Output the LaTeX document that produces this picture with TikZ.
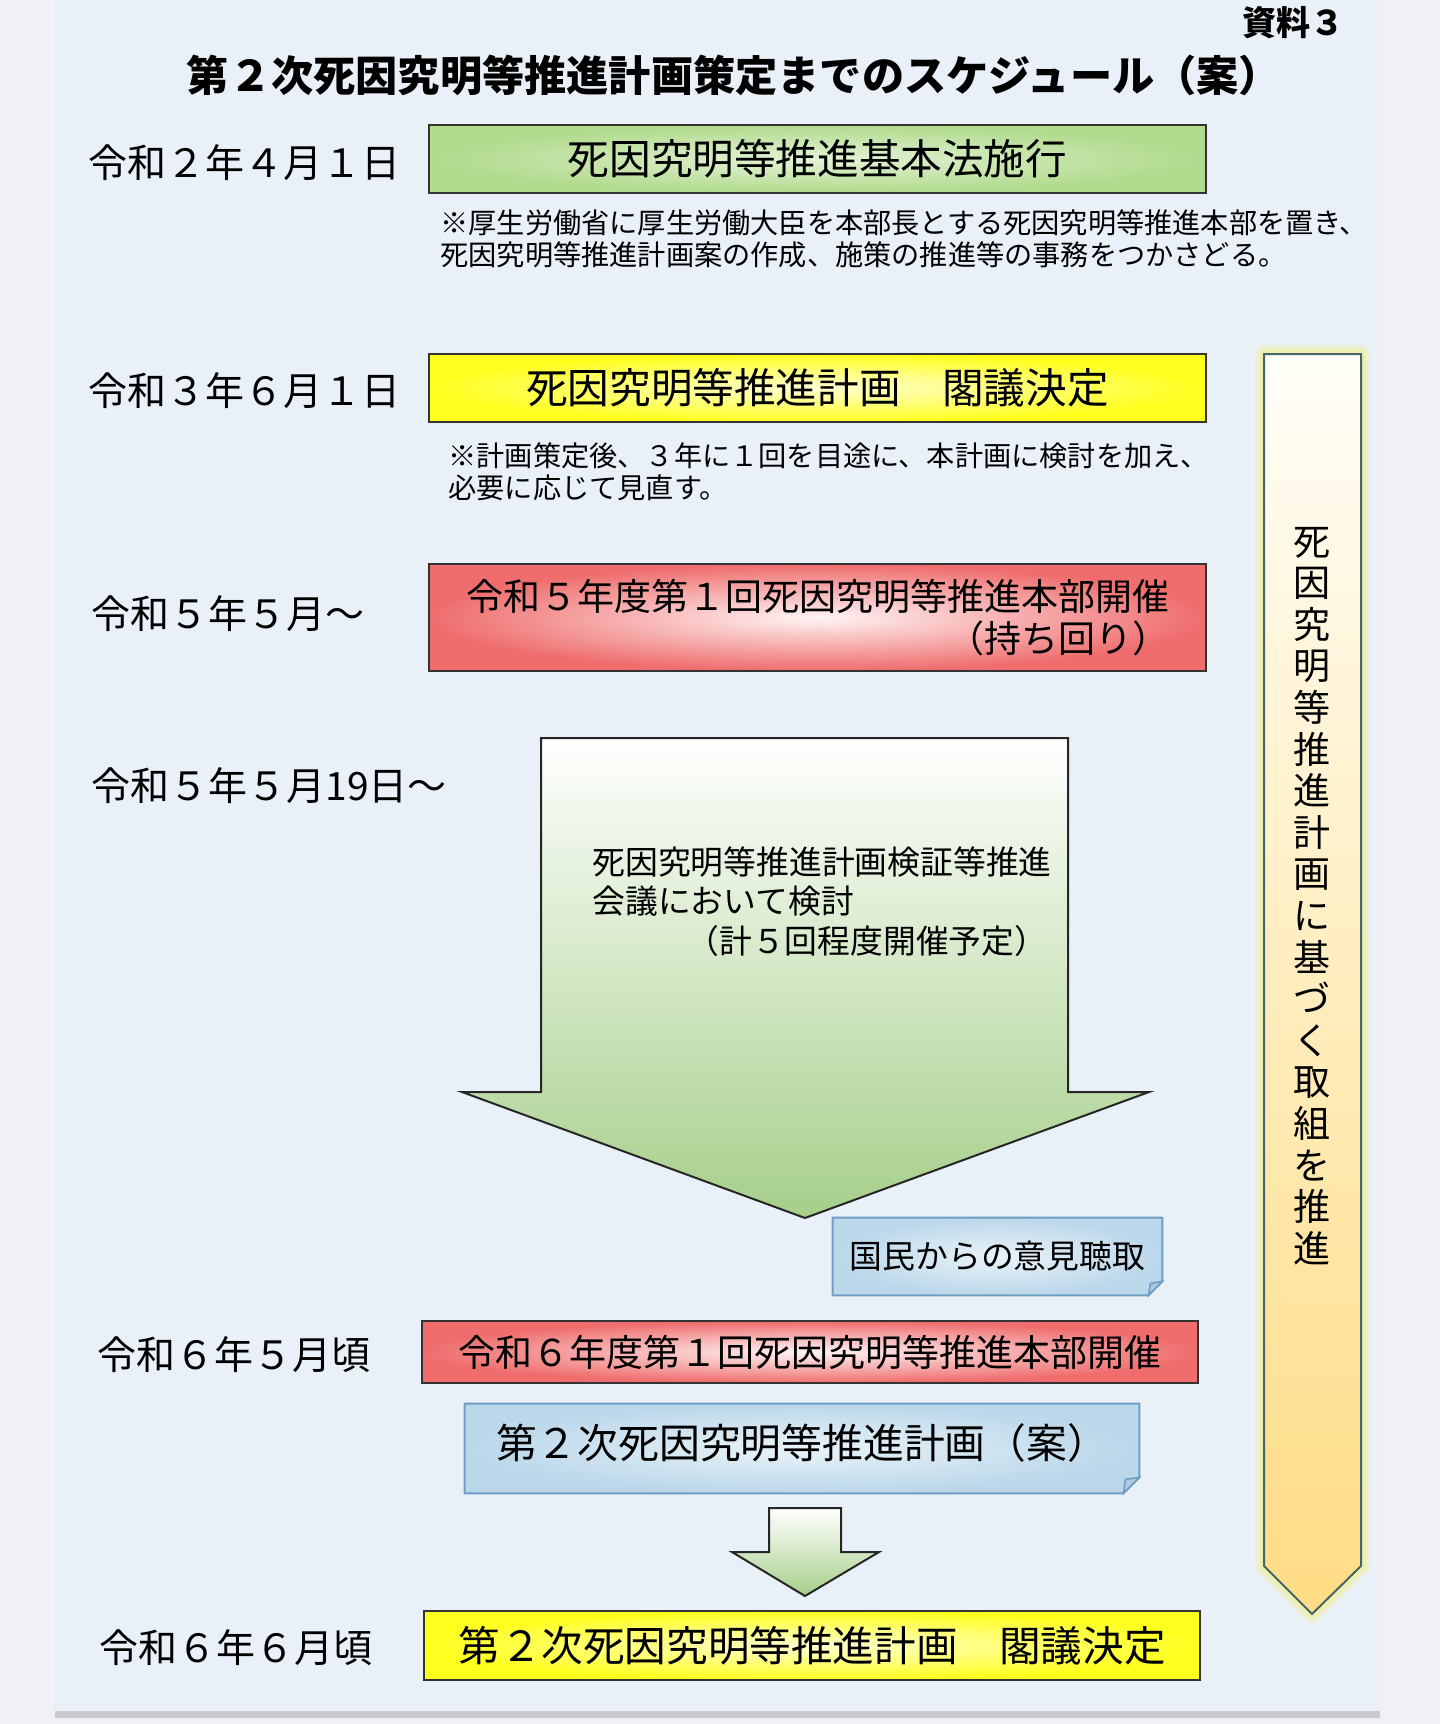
\documentclass[tikz,border=0pt]{standalone}
\usepackage{fontspec}
\setmainfont{Noto Sans CJK JP}
\usetikzlibrary{positioning,calc}
\definecolor{pagebg}{HTML}{F1F1F5}
\definecolor{panel}{HTML}{EAF0F8}
\definecolor{panelline}{HTML}{C9C9CE}
\definecolor{lawout}{HTML}{B0DA8C}
\definecolor{lawin}{HTML}{E4F3D6}
\definecolor{cabout}{HTML}{FFFF1E}
\definecolor{cabin}{HTML}{FFFFD2}
\definecolor{hqout}{HTML}{EF6D6D}
\definecolor{hqin}{HTML}{FFF4F4}
\definecolor{paperout}{HTML}{BBD7EA}
\definecolor{paperin}{HTML}{E9F3F9}
\definecolor{paperedge}{HTML}{6E9DC6}
\definecolor{arrgreen}{HTML}{A6CF8A}
\definecolor{promtop}{HTML}{FFFEF8}
\definecolor{prombot}{HTML}{FFDC84}
\definecolor{promedge}{HTML}{46656B}
\definecolor{glowc}{HTML}{F2F08A}
\pgfdeclarelayer{back}
\pgfdeclarelayer{bg}
\pgfsetlayers{back,bg,main}
\tikzset{
doc/.style={inner sep=0pt,font=\fontsize{17}{20}\selectfont\bfseries},
heading/.style={inner sep=0pt,font=\fontsize{21.1}{24}\selectfont\bfseries},
date/.style={anchor=base west,inner sep=0pt,font=\fontsize{19.5}{23}\selectfont},
note/.style={anchor=north west,inner sep=0pt,align=left,font=\fontsize{14.1}{16}\selectfont},
bar/.style={draw=black!80,line width=1pt,minimum width=388.5pt,minimum height=34pt,inner sep=0pt,font=\fontsize{20.8}{24}\selectfont},
law/.style={bar,inner color=lawin,outer color=lawout},
cab/.style={bar,inner color=cabin,outer color=cabout},
hq/.style={bar,inner color=hqin,outer color=hqout,font=\fontsize{18.5}{21}\selectfont},
meet/.style={anchor=north west,inner sep=0pt,align=left,font=\fontsize{16.4}{19.8}\selectfont},
opinion/.style={inner sep=0pt,minimum width=164.5pt,minimum height=38.5pt,font=\fontsize{16.4}{19}\selectfont},
draft/.style={inner sep=0pt,minimum width=337pt,minimum height=44.5pt,text depth=7pt,font=\fontsize{20.4}{24}\selectfont},
vtext/.style={inner sep=0pt,align=center,font=\fontsize{18.5}{20.8}\selectfont},
paper/.style={draw=paperedge,line width=1pt,inner color=paperin,outer color=paperout,line join=round},
fold/.style={draw=paperedge,line width=.8pt,fill=paperout!80!paperedge},
arr/.style={draw=black!85,line width=1pt,top color=white,bottom color=arrgreen,line join=miter},
promote/.style={draw=promedge,line width=1pt,top color=promtop,bottom color=prombot},
glow/.style={draw=glowc,line join=round},
}

\begin{document}
\begin{tikzpicture}[x=0.5pt,y=-0.5pt]
\useasboundingbox (0,0) rectangle (1440,1724);
\begin{pgfonlayer}{back}
\fill[pagebg] (0,0) rectangle (1440,1724);
\fill[panel] (55,0) rectangle (1380,1710);
\fill[panelline] (55,1711) rectangle (1380,1718);
\end{pgfonlayer}

% heading
\node[doc] (doc) at (1293,23) {資料３};
\node[heading] (title) at (734,75) {第２次死因究明等推進計画策定までのスケジュール（案）};

% dates
\node[date] (d1) at (88,177) {令和２年４月１日};
\node[date] (d2) at (88,405) {令和３年６月１日};
\node[date] (d3) at (91,628) {令和５年５月～};
\node[date] (d4) at (91,800) {令和５年５月19日～};
\node[date] (d5) at (97,1369) {令和６年５月頃};
\node[date] (d6) at (99,1662) {令和６年６月頃};

% steps
\node[law] (law) at (817.5,159) {死因究明等推進基本法施行};
\node[note] (n1) at (440,209) {※厚生労働省に厚生労働大臣を本部長とする死因究明等推進本部を置き、\\死因究明等推進計画案の作成、施策の推進等の事務をつかさどる。};
\node[cab] (cab1) at (817.5,388) {死因究明等推進計画　閣議決定};
\node[note] (n2) at (448,442) {※計画策定後、３年に１回を目途に、本計画に検討を加え、\\必要に応じて見直す。};
\node[hq,minimum height=53.5pt,align=right] (hq5) at (817.5,617.5) {令和５年度第１回死因究明等推進本部開催\\（持ち回り）};
\node[meet] (meet) at (592,846) {死因究明等推進計画検証等推進\\会議において検討\\\hspace*{47pt}（計５回程度開催予定）};
\node[opinion] (opinion) at (997.5,1256.5) {国民からの意見聴取};
\node[hq,minimum width=388pt,minimum height=31pt] (hq6) at (810,1352) {令和６年度第１回死因究明等推進本部開催};
\node[draft] (draft) at (802,1448.5) {第２次死因究明等推進計画（案）};
\node[cab,minimum width=388pt,minimum height=34.5pt] (cab2) at (812,1645.5) {第２次死因究明等推進計画　閣議決定};
\node[vtext] (prom) at (1312,896) {死\\因\\究\\明\\等\\推\\進\\計\\画\\に\\基\\づ\\く\\取\\組\\を\\推\\進};

\begin{pgfonlayer}{bg}
% block arrows
\path[arr] (541,738) -- (1068,738) -- (1068,1092) -- (1149,1092) -- (805,1218)
  -- (462,1092) -- (541,1092) -- cycle;
\path[arr] (769,1508) -- (841,1508) -- (841,1552) -- (879,1552) -- (805,1596)
  -- (732,1552) -- (769,1552) -- cycle;
% long arrow on the right
\path[glow,line width=9pt,opacity=.3] (1264,354) -- (1361,354) -- (1361,1566) -- (1312,1614) -- (1264,1566) -- cycle;
\path[glow,line width=5pt,opacity=.5] (1264,354) -- (1361,354) -- (1361,1566) -- (1312,1614) -- (1264,1566) -- cycle;
\path[promote] (1264,354) -- (1361,354) -- (1361,1566) -- (1312,1614) -- (1264,1566) -- cycle;
% folded notes
\path[paper] (opinion.north west) -- (opinion.north east) -- ([yshift=7pt]opinion.south east)
  -- ([xshift=-7pt]opinion.south east) -- (opinion.south west) -- cycle;
\path[fold] ([yshift=7pt]opinion.south east) -- ([xshift=-7pt]opinion.south east)
  -- ([xshift=-6pt,yshift=6pt]opinion.south east) -- cycle;
\path[paper] (draft.north west) -- (draft.north east) -- ([yshift=8pt]draft.south east)
  -- ([xshift=-8pt]draft.south east) -- (draft.south west) -- cycle;
\path[fold] ([yshift=8pt]draft.south east) -- ([xshift=-8pt]draft.south east)
  -- ([xshift=-7pt,yshift=7pt]draft.south east) -- cycle;
\end{pgfonlayer}
\end{tikzpicture}
\end{document}
